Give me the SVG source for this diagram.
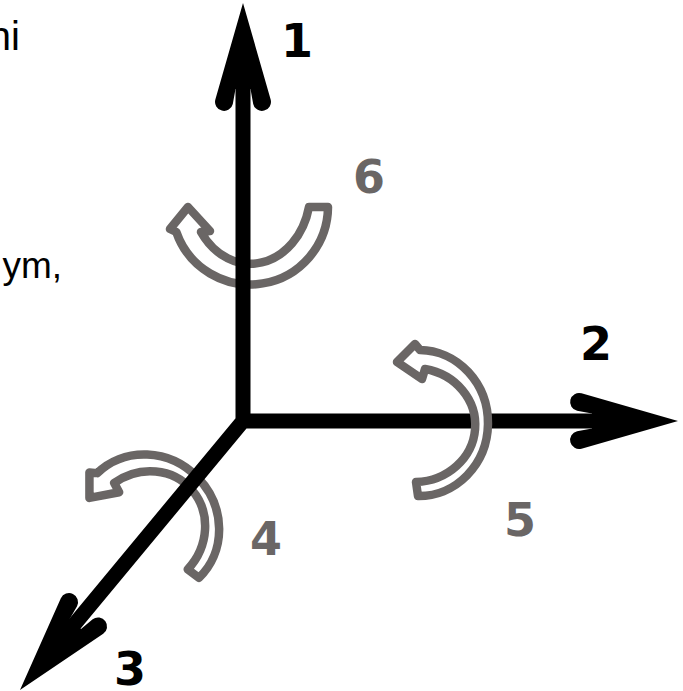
<svg xmlns="http://www.w3.org/2000/svg" width="683" height="691" viewBox="0 0 683 691">
<style>
.axis{stroke:#000;stroke-width:15;fill:none;stroke-linejoin:miter}
.head{fill:#000}
.rot{fill:#fff;stroke:#6a6665;stroke-width:8.5;stroke-linejoin:round}
.lbl{font-family:"DejaVu Sans",sans-serif;font-weight:bold;font-size:46px;text-anchor:middle}
.blk{fill:#000}
.gry{fill:#6a6665}
.side{font-family:"Liberation Sans",Arial,sans-serif;fill:#000;text-anchor:end}
</style>
<defs>
<path id="ah" d="M0,0 L-96.5,-27.65 A9,9 0 1 0 -100.9,-10.2 L-86,-7.5 L-86,7.5 L-100.9,10.2 A9,9 0 1 0 -96.5,27.65 Z"/>
<path id="crv" d="M3,72 A69,73 0 0 0 5,-74 L0,-80 L-18,-62 L7,-45 L10,-55 A61.5,57 0 0 1 1,58 Z"/>
</defs>
<g id="side-text">
<text class="side" x="20" y="50" font-size="40">hi</text>
<text class="side" x="62" y="278" font-size="37">ym,</text>
</g>
<g id="rot-4">
<use href="#crv" class="rot" transform="translate(146,529) rotate(-45)"/>
<text class="lbl gry" x="266" y="555">4</text>
</g>
<g id="rot-6">
<path class="rot" d="M328,207 A78,78 0 0 1 176.3,232 L170,229 L188,207 L210,231 L201,232 A60,73 0 0 0 309,207 Z"/>
<text class="lbl gry" x="369" y="193">6</text>
</g>
<g id="connectors">
<path class="axis" d="M243,75 L243,421 L600,421 M243,421 L68,632"/>
<use href="#ah" class="head" transform="translate(243,3) rotate(-90)"/>
<use href="#ah" class="head" transform="translate(678,421)"/>
<use href="#ah" class="head" transform="translate(20,690) rotate(130)"/>
</g>
<g id="axis-labels">
<text class="lbl blk" x="297" y="57">1</text>
<text class="lbl blk" x="596" y="360">2</text>
<text class="lbl blk" x="130" y="685">3</text>
</g>
<g id="rot-5">
<use href="#crv" class="rot" transform="translate(415,424)"/>
<text class="lbl gry" x="520" y="536">5</text>
</g>
</svg>
